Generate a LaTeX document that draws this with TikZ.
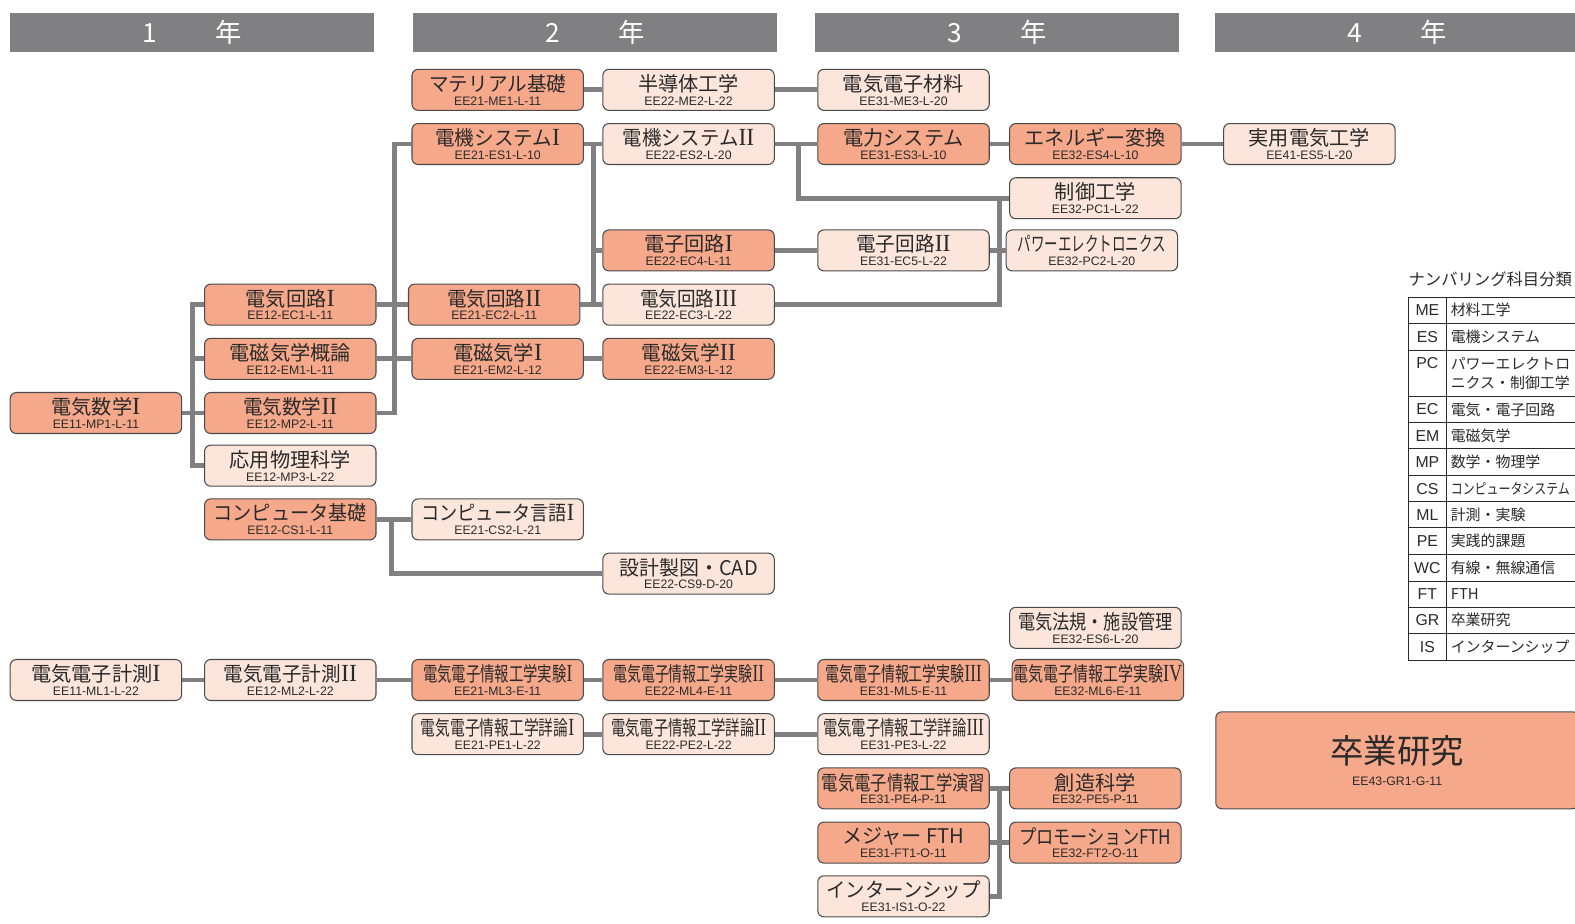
\documentclass[tikz,border=0pt]{standalone}
\usepackage{graphicx}
\usepackage{fontspec}
\setmainfont{Noto Sans CJK JP}
\newfontfamily\codefont{Liberation Sans}
\newfontfamily\rnfont{Liberation Serif}

\definecolor{kdark}{HTML}{F6A88A}
\definecolor{klight}{HTML}{FCE6DB}
\definecolor{kline}{HTML}{808083}
\definecolor{kink}{HTML}{2A2A2A}

\tikzset{
  subj/.style={draw=kink!85, line width=0.6pt, rounded corners=3.5pt, minimum width=3.43cm,
    minimum height=0.82cm, inner sep=0pt, align=center, text=kink, font=\fontsize{11.5}{7.8}\selectfont},
  dk/.style={subj, fill=kdark},
  lt/.style={subj, fill=klight},
  ln/.style={draw=kline, line width=2.8pt},
  hdr/.style={fill=kline, text=white, minimum width=7.28cm, minimum height=0.78cm, inner sep=0pt,
    font=\fontsize{15}{15}\selectfont},
  tbl/.style={draw=kink, line width=0.6pt},
  lgc/.style={text=kink, inner sep=0pt, font=\codefont\fontsize{9}{9}\selectfont},
  lgt/.style={text=kink, inner sep=0pt, anchor=west, font=\fontsize{8.5}{8.5}\selectfont},
}

\newcommand{\rn}[1]{{\rnfont\fontsize{14}{7.8}\selectfont #1}}
\newcommand{\kmk}[3][1]{\scalebox{#1}[1]{#2}\\{\codefont\fontsize{7}{7.8}\selectfont #3}}

\begin{document}
\begin{tikzpicture}[x=0.020089cm,y=-0.020087cm]
\useasboundingbox (0,0) rectangle (1568,920);
\clip (0,0) rectangle (1568,920);

% year headers
\node[hdr] (y1) at (191.5,32.5) {1\hspace{33pt}年};
\node[hdr] (y2) at (592.5,32.5) {2\hspace{33pt}年};
\node[hdr] (y3) at (992.5,32.5) {3\hspace{33pt}年};
\node[hdr] (y4) at (1391,32.5) {4\hspace{33pt}年};

% 1st year
\node[dk] (mp1) at (95.5,411.5) {\kmk{電気数学\rn{I}}{EE11-MP1-L-11}};
\node[lt] (ml1) at (95.5,677.5) {\kmk{電気電子計測\rn{I}}{EE11-ML1-L-22}};
\node[dk] (ec1) at (289,303.5) {\kmk{電気回路\rn{I}}{EE12-EC1-L-11}};
\node[dk] (em1) at (289,357.5) {\kmk{電磁気学概論}{EE12-EM1-L-11}};
\node[dk] (mp2) at (289,411.5) {\kmk[0.97]{電気数学\rn{II}}{EE12-MP2-L-11}};
\node[lt] (mp3) at (289,464) {\kmk{応用物理科学}{EE12-MP3-L-22}};
\node[dk] (cs1) at (289,517.5) {\kmk[0.95]{コンピュータ基礎}{EE12-CS1-L-11}};
\node[lt] (ml2) at (289,677.5) {\kmk[0.97]{電気電子計測\rn{II}}{EE12-ML2-L-22}};

% 2nd year
\node[dk] (me1) at (495.5,89.5) {\kmk[0.97]{マテリアル基礎}{EE21-ME1-L-11}};
\node[dk] (es1) at (495.5,143.5) {\kmk[0.97]{電機システム\rn{I}}{EE21-ES1-L-10}};
\node[dk] (ec2) at (492,303.5) {\kmk[0.97]{電気回路\rn{II}}{EE21-EC2-L-11}};
\node[dk] (em2) at (495.5,357.5) {\kmk{電磁気学\rn{I}}{EE21-EM2-L-12}};
\node[lt] (cs2) at (495.5,517.5) {\kmk[0.9]{コンピュータ言語\rn{I}}{EE21-CS2-L-21}};
\node[dk] (ml3) at (495.5,677.5) {\kmk[0.71]{電気電子情報工学実験\rn{I}}{EE21-ML3-E-11}};
\node[lt] (pe1) at (495.5,731.5) {\kmk[0.73]{電気電子情報工学詳論\rn{I}}{EE21-PE1-L-22}};
\node[lt] (me2) at (685.5,89.5) {\kmk{半導体工学}{EE22-ME2-L-22}};
\node[lt] (es2) at (685.5,143.5) {\kmk[0.96]{電機システム\rn{II}}{EE22-ES2-L-20}};
\node[dk] (ec4) at (685.5,249.5) {\kmk{電子回路\rn{I}}{EE22-EC4-L-11}};
\node[lt] (ec3) at (685.5,303.5) {\kmk[0.92]{電気回路\rn{III}}{EE22-EC3-L-22}};
\node[dk] (em3) at (685.5,357.5) {\kmk[0.97]{電磁気学\rn{II}}{EE22-EM3-L-12}};
\node[lt] (cs9) at (685.5,571.5) {\kmk[0.99]{設計製図・CAD}{EE22-CS9-D-20}};
\node[dk] (ml4) at (685.5,677.5) {\kmk[0.69]{電気電子情報工学実験\rn{II}}{EE22-ML4-E-11}};
\node[lt] (pe2) at (685.5,731.5) {\kmk[0.71]{電気電子情報工学詳論\rn{II}}{EE22-PE2-L-22}};

% 3rd year
\node[lt] (me3) at (899.5,89.5) {\kmk{電気電子材料}{EE31-ME3-L-20}};
\node[dk] (es3) at (899.5,143.5) {\kmk{電力システム}{EE31-ES3-L-10}};
\node[lt] (ec5) at (899.5,249.5) {\kmk[0.97]{電子回路\rn{II}}{EE31-EC5-L-22}};
\node[dk] (ml5) at (899.5,677.5) {\kmk[0.69]{電気電子情報工学実験\rn{III}}{EE31-ML5-E-11}};
\node[lt] (pe3) at (899.5,731.5) {\kmk[0.71]{電気電子情報工学詳論\rn{III}}{EE31-PE3-L-22}};
\node[dk] (pe4) at (899.5,785.5) {\kmk[0.81]{電気電子情報工学演習}{EE31-PE4-P-11}};
\node[dk] (ft1) at (899.5,839.5) {\kmk{メジャー FTH}{EE31-FT1-O-11}};
\node[lt] (is1) at (899.5,893) {\kmk[0.96]{インターンシップ}{EE31-IS1-O-22}};
\node[dk] (es4) at (1090.5,143.5) {\kmk{エネルギー変換}{EE32-ES4-L-10}};
\node[lt] (pc1) at (1090.5,197.5) {\kmk{制御工学}{EE32-PC1-L-22}};
\node[lt] (pc2) at (1087,249.5) {\kmk[0.67]{パワーエレクトロニクス}{EE32-PC2-L-20}};
\node[lt] (es6) at (1090.5,625.5) {\kmk[0.85]{電気法規・施設管理}{EE32-ES6-L-20}};
\node[dk] (ml6) at (1093,677.5) {\kmk[0.74]{電気電子情報工学実験\rn{IV}}{EE32-ML6-E-11}};
\node[dk] (pe5) at (1090.5,785.5) {\kmk{創造科学}{EE32-PE5-P-11}};
\node[dk] (ft2) at (1090.5,839.5) {\kmk[0.85]{プロモーションFTH}{EE32-FT2-O-11}};

% 4th year
\node[lt] (es5) at (1303.5,143.5) {\kmk{実用電気工学}{EE41-ES5-L-20}};
\node[dk, minimum width=7.26cm, minimum height=1.94cm, font=\fontsize{19}{12.5}\selectfont]
  (gr1) at (1391,757.5) {卒業研究\\{\codefont\fontsize{7}{12.5}\selectfont EE43-GR1-G-11}};

% junctions
\coordinate (jA) at (591,143.5);
\coordinate (jB) at (393,411.5);
\coordinate (jC) at (192,411.5);
\coordinate (jE) at (795,143.5);
\coordinate (jF) at (995,197.5);
\coordinate (jG) at (390,517.5);
\coordinate (jH) at (995,785.5);

% connectors
\draw[ln] (me1) -- (me2) -- (me3);
\draw[ln] (es1) -- (es2) -- (es3) -- (es4) -- (es5);
\draw[ln] (jA) |- (ec4);
\draw[ln] (jA) |- (ec3);
\draw[ln] (ec2) -- (ec3);
\draw[ln] (ec4) -- (ec5);
\draw[ln] (es1) -| (jB) -- (mp2);
\draw[ln] (ec1) -- (ec2);
\draw[ln] (em1) -- (em2) -- (em3);
\draw[ln] (mp1) -- (mp2);
\draw[ln] (ec1) -| (jC) |- (mp3);
\draw[ln] (em1) -| (jC);
\draw[ln] (jE) |- (pc1);
\draw[ln] (ec3) -| (jF);
\draw[ln] (ec5) -- (pc2);
\draw[ln] (cs1) -- (cs2);
\draw[ln] (jG) |- (cs9);
\draw[ln] (ml1) -- (ml2) -- (ml3) -- (ml4) -- (ml5) -- (ml6);
\draw[ln] (pe1) -- (pe2) -- (pe3);
\draw[ln] (pe4) -- (pe5);
\draw[ln] (ft1) -- (ft2);
\draw[ln] (is1) -| (jH);

% numbering legend
\node[anchor=west, inner sep=0pt, text=kink, font=\fontsize{9.3}{9.3}\selectfont] (lgtitle) at (1402,278) {ナンバリング科目分類};
\draw[tbl] (1402,296) rectangle (1600,658);
\draw[tbl] (1440,296) -- (1440,658);
\foreach \yy in {322,349,395,421,447,474,500,526,552,579,605,631}
  \draw[tbl] (1402,\yy) -- (1600,\yy);
\foreach \cd/\nm/\yy in {ME/材料工学/309, ES/電機システム/335.5, EC/電気・電子回路/408, EM/電磁気学/434,
    MP/数学・物理学/460.5, CS/\scalebox{0.8}[1]{コンピュータシステム}/487, ML/計測・実験/513, PE/実践的課題/539,
    WC/有線・無線通信/565.5, FT/FTH/592, GR/卒業研究/618, IS/インターンシップ/644.5}{
  \node[lgc] (c\cd) at (1421,\yy) {\cd};
  \node[lgt] (t\cd) at (1444,\yy) {\nm};
}
\node[lgc] (cPC) at (1421,362) {PC};
\node[lgt] (tPC) at (1444,362) {パワーエレクトロ};
\node[lgt] (tPCb) at (1444,381) {ニクス・制御工学};
\end{tikzpicture}
\end{document}
